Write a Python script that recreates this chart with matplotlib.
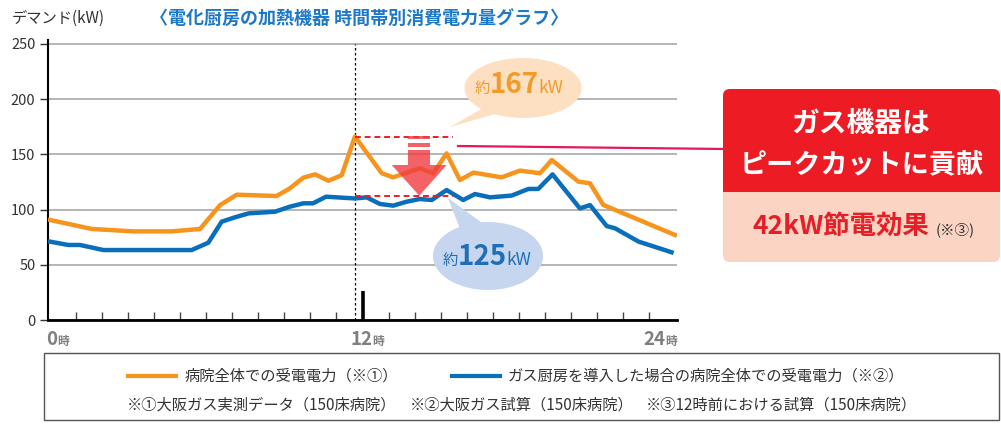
import matplotlib
matplotlib.use('Agg')
import matplotlib.pyplot as plt
import numpy as np
from matplotlib.patches import Ellipse, Polygon, FancyBboxPatch, Rectangle

plt.rcParams['font.family'] = ['Noto Sans CJK JP', 'DejaVu Sans']

# hospital total demand (measured), kW by hour of day
hours_total = [0, 1.6, 3.2, 4.67, 5.76, 6.53, 7.17, 8.7, 9.2, 9.73, 10.18, 10.69, 11.2, 11.71,
               12.74, 13.18, 14.2, 14.72, 15.23, 15.74, 16.26, 17.34, 18.05, 18.82, 19.27,
               20.29, 20.74, 21.25, 24]
kw_total = [90.5, 82.4, 80.2, 80.2, 82.4, 104, 113.4, 112.2, 119, 128.8, 131.8, 126, 131, 166,
            132.8, 129.1, 137.3, 132.8, 150.8, 126.7, 133.4, 129.1, 135.2, 132.8, 144.8,
            125.3, 123.7, 104.1, 77]

# demand with gas kitchen installed (estimate)
hours_gas = [0, 0.7, 1.15, 2.05, 5.44, 6.08, 6.59, 7.1, 7.62, 8.64, 9.2, 9.73, 10.1, 10.6, 11.71,
             12.16, 12.67, 13.18, 13.7, 14.2, 14.66, 15.23, 15.87, 16.32, 16.9, 17.73, 18.37,
             18.75, 19.3, 20.35, 20.74, 21.38, 21.7, 22.6, 23.87]
kw_gas = [70.9, 67.9, 67.9, 63.3, 63.3, 70, 89, 92.9, 96.5, 98, 102.5, 105.6, 105.6, 111.6, 110,
          111, 105, 103.5, 107.1, 109.5, 108.6, 117.6, 108.6, 114, 111, 112.6, 118.6,
          118.6, 131.8, 101, 104, 85, 83, 71, 61.3]

y_ticks = [0, 50, 100, 150, 200, 250]
gas_level = 112.5
band_end = 15.48
label_before = '167'
label_after = '125'
label_saving = '42kW節電効果'
legend_total = '病院全体での受電電力（※①）'
legend_gas = 'ガス厨房を導入した場合の病院全体での受電電力（※②）'
notes = ['※①大阪ガス実測データ（150床病院）', '※②大阪ガス試算（150床病院）', '※③12時前における試算（150床病院）']

ORANGE = '#f7941d'
BLUE = '#0a6fba'
W, H = 1001, 428

fig = plt.figure(figsize=(W / 100, H / 100), dpi=100)
ax = fig.add_axes([48 / W, 1 - 320 / H, (677 - 48) / W, (320 - 40) / H])
ax.set_xlim(-0.08, 24.08)
ax.set_ylim(0, 253.4)

ax.set_yticks(y_ticks)
ax.set_yticklabels([str(v) for v in y_ticks], fontsize=10.5, color='#333333')
ax.yaxis.grid(True, color='#a8a8a8', lw=1.2)
ax.set_axisbelow(True)
ax.tick_params(axis='y', direction='out', length=6, width=1, color='#333333', pad=3)
ax.set_xticks(range(1, 24))
ax.tick_params(axis='x', direction='in', length=6, width=1, color='#444444', labelbottom=False)
for s in ['top', 'right']:
    ax.spines[s].set_visible(False)
ax.spines['left'].set_linewidth(1.5)
ax.spines['bottom'].set_linewidth(2)

ax.plot(hours_total, kw_total, color=ORANGE, lw=3.2, zorder=3)
ax.plot(hours_gas, kw_gas, color=BLUE, lw=3.2, zorder=3)

ipk = int(np.argmax(kw_total))
peak_h = hours_total[ipk]
ax.vlines(peak_h, 0, 250, colors='black', linestyles=(0, (2, 2)), lw=0.9, zorder=2)
ax.vlines(12, 0, 26, colors='black', lw=2.6, zorder=4)
ax.hlines([kw_total[ipk], gas_level], peak_h, band_end, colors='#ee1c25',
          linestyles=(0, (3, 2)), lw=1.4, zorder=4)

# overlay in pixel units for annotations
ov = fig.add_axes([0, 0, 1, 1])
ov.set_xlim(0, W)
ov.set_ylim(H, 0)
ov.axis('off')
renderer = fig.canvas.get_renderer()


def rich(x, y, parts, ha='left'):
    texts, widths = [], []
    for s, size, weight, color in parts:
        t = ov.text(0, y, s, fontsize=size, fontweight=weight, color=color,
                    va='baseline', ha='left', zorder=10)
        texts.append(t)
        widths.append(t.get_window_extent(renderer).width)
    total = sum(widths)
    start = x - total / 2 if ha == 'center' else (x - total if ha == 'right' else x)
    for t, w in zip(texts, widths):
        t.set_x(start)
        start += w


# header texts
ov.text(12, 18, 'デマンド(kW)', fontsize=11, color='#333333', va='center', ha='left')
ov.text(150, 18, '〈電化厨房の加熱機器 時間帯別消費電力量グラフ〉', fontsize=13, fontweight='bold',
        color='#1e78c8', va='center', ha='left')

# x labels
GRAY = '#7f7f7f'
rich(46, 345, [('0', 13.5, 'bold', GRAY), ('時', 8.5, 'bold', GRAY)])
rich(350, 345, [('12', 13.5, 'bold', GRAY), ('時', 8.5, 'bold', GRAY)])
rich(677, 345, [('24', 13.5, 'bold', GRAY), ('時', 8.5, 'bold', GRAY)], ha='right')

# red arrow
arrow_c = '#ef3b40'
ov.add_patch(Rectangle((408, 136), 22, 3.3, color=arrow_c, alpha=0.8, lw=0, zorder=6))
ov.add_patch(Rectangle((408, 142.7), 22, 4.6, color=arrow_c, alpha=0.8, lw=0, zorder=6))
ov.add_patch(Polygon([(408, 150), (430, 150), (430, 165), (446.7, 165), (419.3, 195.7),
                      (391.7, 165), (408, 165)], closed=True, color=arrow_c, alpha=0.8, lw=0, zorder=6))

# orange callout
ov.add_patch(Polygon([(483, 108), (502, 112), (450, 127)], closed=True, color='#fde0c2', lw=0, zorder=5))
ov.add_patch(Ellipse((523, 88), 117, 60, color='#fde0c2', lw=0, zorder=5))
rich(519, 93, [('約', 11, 'normal', '#f39a2c'), (label_before, 20, 'bold', '#f39a2c'),
               ('kW', 12.5, 'normal', '#f39a2c')], ha='center')

# blue callout
ov.add_patch(Polygon([(448, 198), (462, 234), (485, 225)], closed=True, color='#c6d6ee', lw=0, zorder=5))
ov.add_patch(Ellipse((488, 256), 110, 68, color='#c6d6ee', lw=0, zorder=5))
rich(487, 265, [('約', 11, 'normal', '#1f6fb8'), (label_after, 20, 'bold', '#1f6fb8'),
                ('kW', 12.5, 'normal', '#1f6fb8')], ha='center')

# connector line and message box
ov.plot([458, 725], [146, 149], color='#e5185a', lw=1.6, zorder=5)
ov.add_patch(FancyBboxPatch((723, 89), 277, 173, boxstyle='round,pad=0,rounding_size=7',
                            color='#fbd4c4', lw=0, zorder=6))
ov.add_patch(FancyBboxPatch((723, 89), 277, 110, boxstyle='round,pad=0,rounding_size=7',
                            color='#ed1c24', lw=0, zorder=7))
ov.add_patch(Rectangle((723, 192), 277, 20, color='#fbd4c4', lw=0, zorder=8))
ov.text(861, 124, 'ガス機器は', fontsize=20, fontweight='bold', color='white',
        ha='center', va='center', zorder=9)
ov.text(862, 164, 'ピークカットに貢献', fontsize=19.5, fontweight='bold', color='white',
        ha='center', va='center', zorder=9)
rich(864, 234, [(label_saving, 19, 'bold', '#e61e28'), ('  ', 10, 'normal', '#333333'),
                ('(※③)', 10.5, 'normal', '#333333')], ha='center')

# legend box
ov.add_patch(Rectangle((44, 353), 955, 67, fill=False, edgecolor='#555555', lw=1, zorder=5))
ov.plot([128, 176], [376, 376], color=ORANGE, lw=3, zorder=6)
ov.text(185, 376, legend_total, fontsize=11, color='#333333', va='center', ha='left')
ov.plot([452, 500], [376, 376], color=BLUE, lw=3, zorder=6)
ov.text(508, 376, legend_gas, fontsize=11, color='#333333', va='center', ha='left')
for xpos, note in zip([127, 410, 646], notes):
    ov.text(xpos, 405, note, fontsize=11, color='#333333', va='center', ha='left')

fig.savefig('out.png', dpi=100)
